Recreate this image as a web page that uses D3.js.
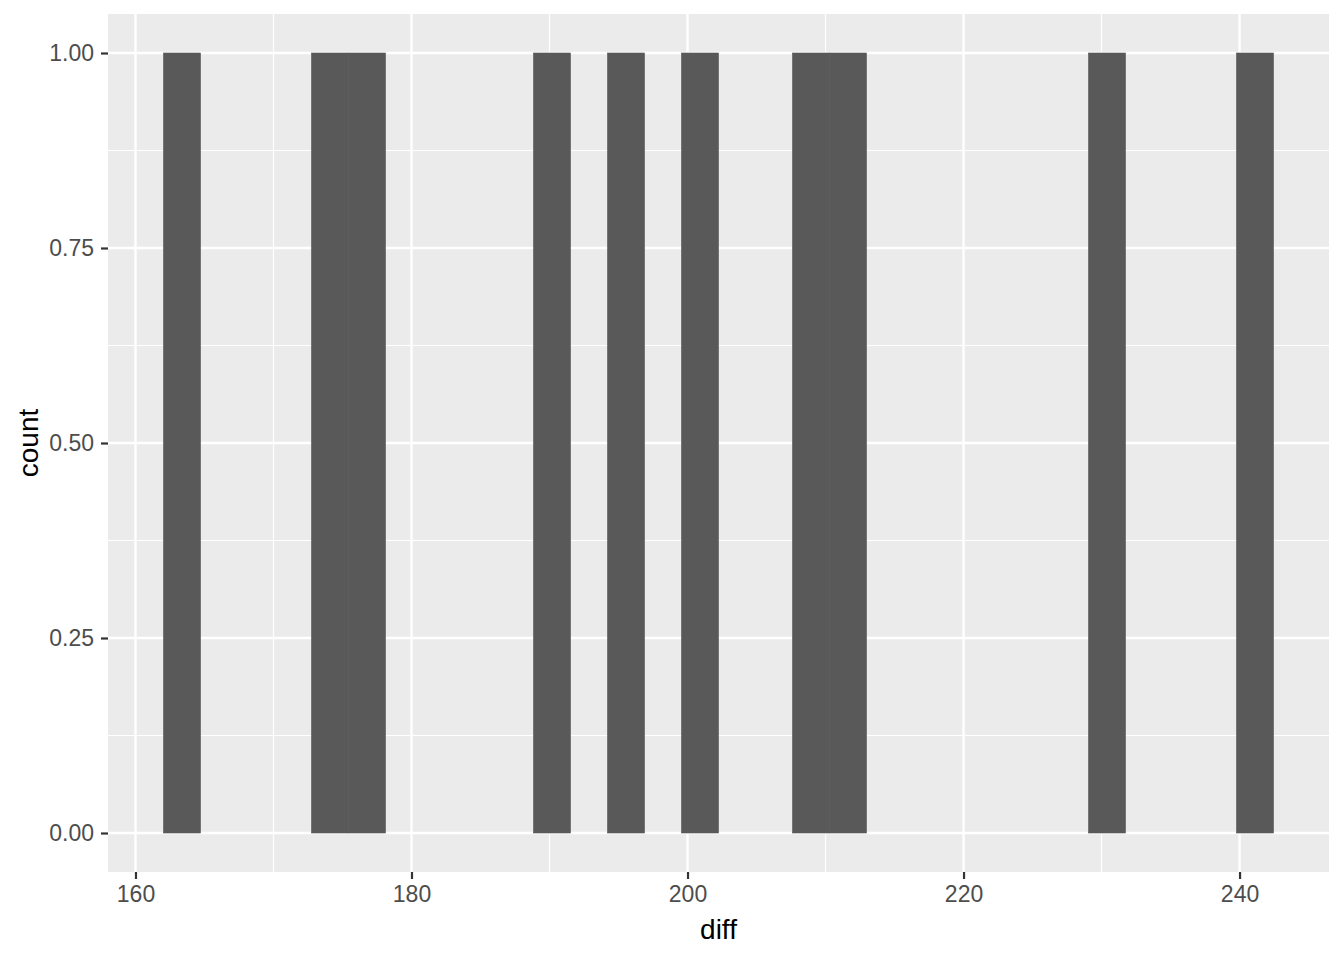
<!DOCTYPE html>
<html>
<head>
<meta charset="utf-8">
<script src="https://cdn.jsdelivr.net/npm/d3@7"></script>
<style>
  body { margin: 0; background: #ffffff; }
  text { font-family: "Liberation Sans", Arial, sans-serif; }
</style>
</head>
<body>
<script>
// histogram of diff, 30 bins
var binStart = 162.03;
var binWidth = 2.681;
var counts = [1, 0, 0, 0, 1, 1, 0, 0, 0, 0,
              1, 0, 1, 0, 1, 0, 0, 1, 1, 0,
              0, 0, 0, 0, 0, 1, 0, 0, 0, 1];
var xTicks = [160, 180, 200, 220, 240];
var xMinor = [170, 190, 210, 230];
var yTicks = [0, 0.25, 0.5, 0.75, 1];
var yMinor = [0.125, 0.375, 0.625, 0.875];
var xTitle = "diff";
var yTitle = "count";

var width = 1344, height = 960;
var margin = {top: 14, right: 15, bottom: 88, left: 108};
var pw = width - margin.left - margin.right,
    ph = height - margin.top - margin.bottom;

var bins = counts.map(function (c, i) {
  return {x0: binStart + i * binWidth, x1: binStart + (i + 1) * binWidth, n: c};
});

// ggplot style 5% expansion
var xlo = binStart, xhi = binStart + counts.length * binWidth;
var xpad = (xhi - xlo) * 0.05;
var ymax = d3.max(counts), ypad = ymax * 0.05;

var x = d3.scaleLinear().domain([xlo - xpad, xhi + xpad]).range([0, pw]);
var y = d3.scaleLinear().domain([-ypad, ymax + ypad]).range([ph, 0]);

var svg = d3.select("body").append("svg")
  .attr("width", width)
  .attr("height", height);

var g = svg.append("g")
  .attr("transform", "translate(" + margin.left + "," + margin.top + ")");

// panel background
g.append("rect")
  .attr("width", pw).attr("height", ph)
  .attr("fill", "#ebebeb");

// minor grid
g.selectAll(".xminor").data(xMinor).enter().append("line")
  .attr("x1", function (d) { return x(d); }).attr("x2", function (d) { return x(d); })
  .attr("y1", 0).attr("y2", ph)
  .attr("stroke", "#ffffff").attr("stroke-width", 1.2);
g.selectAll(".yminor").data(yMinor).enter().append("line")
  .attr("y1", function (d) { return y(d); }).attr("y2", function (d) { return y(d); })
  .attr("x1", 0).attr("x2", pw)
  .attr("stroke", "#ffffff").attr("stroke-width", 1.2);

// major grid
g.selectAll(".xmajor").data(xTicks).enter().append("line")
  .attr("x1", function (d) { return x(d); }).attr("x2", function (d) { return x(d); })
  .attr("y1", 0).attr("y2", ph)
  .attr("stroke", "#ffffff").attr("stroke-width", 2.4);
g.selectAll(".ymajor").data(yTicks).enter().append("line")
  .attr("y1", function (d) { return y(d); }).attr("y2", function (d) { return y(d); })
  .attr("x1", 0).attr("x2", pw)
  .attr("stroke", "#ffffff").attr("stroke-width", 2.4);

// bars (thin stroke of the same colour hides seams between neighbours)
g.selectAll(".bar").data(bins.filter(function (d) { return d.n > 0; })).enter().append("rect")
  .attr("x", function (d) { return x(d.x0); })
  .attr("width", function (d) { return x(d.x1) - x(d.x0); })
  .attr("y", function (d) { return y(d.n); })
  .attr("height", function (d) { return y(0) - y(d.n); })
  .attr("fill", "#595959")
  .attr("stroke", "#595959")
  .attr("stroke-width", 0.6);

// axes
var xaxis = d3.axisBottom(x).tickValues(xTicks).tickSize(7).tickPadding(7)
  .tickFormat(d3.format("d"));
var gx = g.append("g")
  .attr("transform", "translate(0," + ph + ")")
  .call(xaxis);
var yaxis = d3.axisLeft(y).tickValues(yTicks).tickSize(7).tickPadding(7)
  .tickFormat(d3.format(".2f"));
var gy = g.append("g").call(yaxis);

[gx, gy].forEach(function (ax) {
  ax.select(".domain").remove();
  ax.selectAll(".tick line").attr("stroke", "#333333").attr("stroke-width", 2.2);
  ax.selectAll(".tick text")
    .attr("fill", "#4d4d4d")
    .style("font-size", "23px")
    .style("font-family", "'Liberation Sans', Arial, sans-serif");
});
gx.selectAll(".tick text").attr("dy", "0.71em");

// axis titles
svg.append("text")
  .attr("x", margin.left + pw / 2)
  .attr("y", 939)
  .attr("text-anchor", "middle")
  .style("font-size", "28px")
  .attr("fill", "#000000")
  .text(xTitle);

svg.append("text")
  .attr("transform", "translate(38," + (margin.top + ph / 2) + ") rotate(-90)")
  .attr("text-anchor", "middle")
  .style("font-size", "28px")
  .attr("fill", "#000000")
  .text(yTitle);
</script>
</body>
</html>
